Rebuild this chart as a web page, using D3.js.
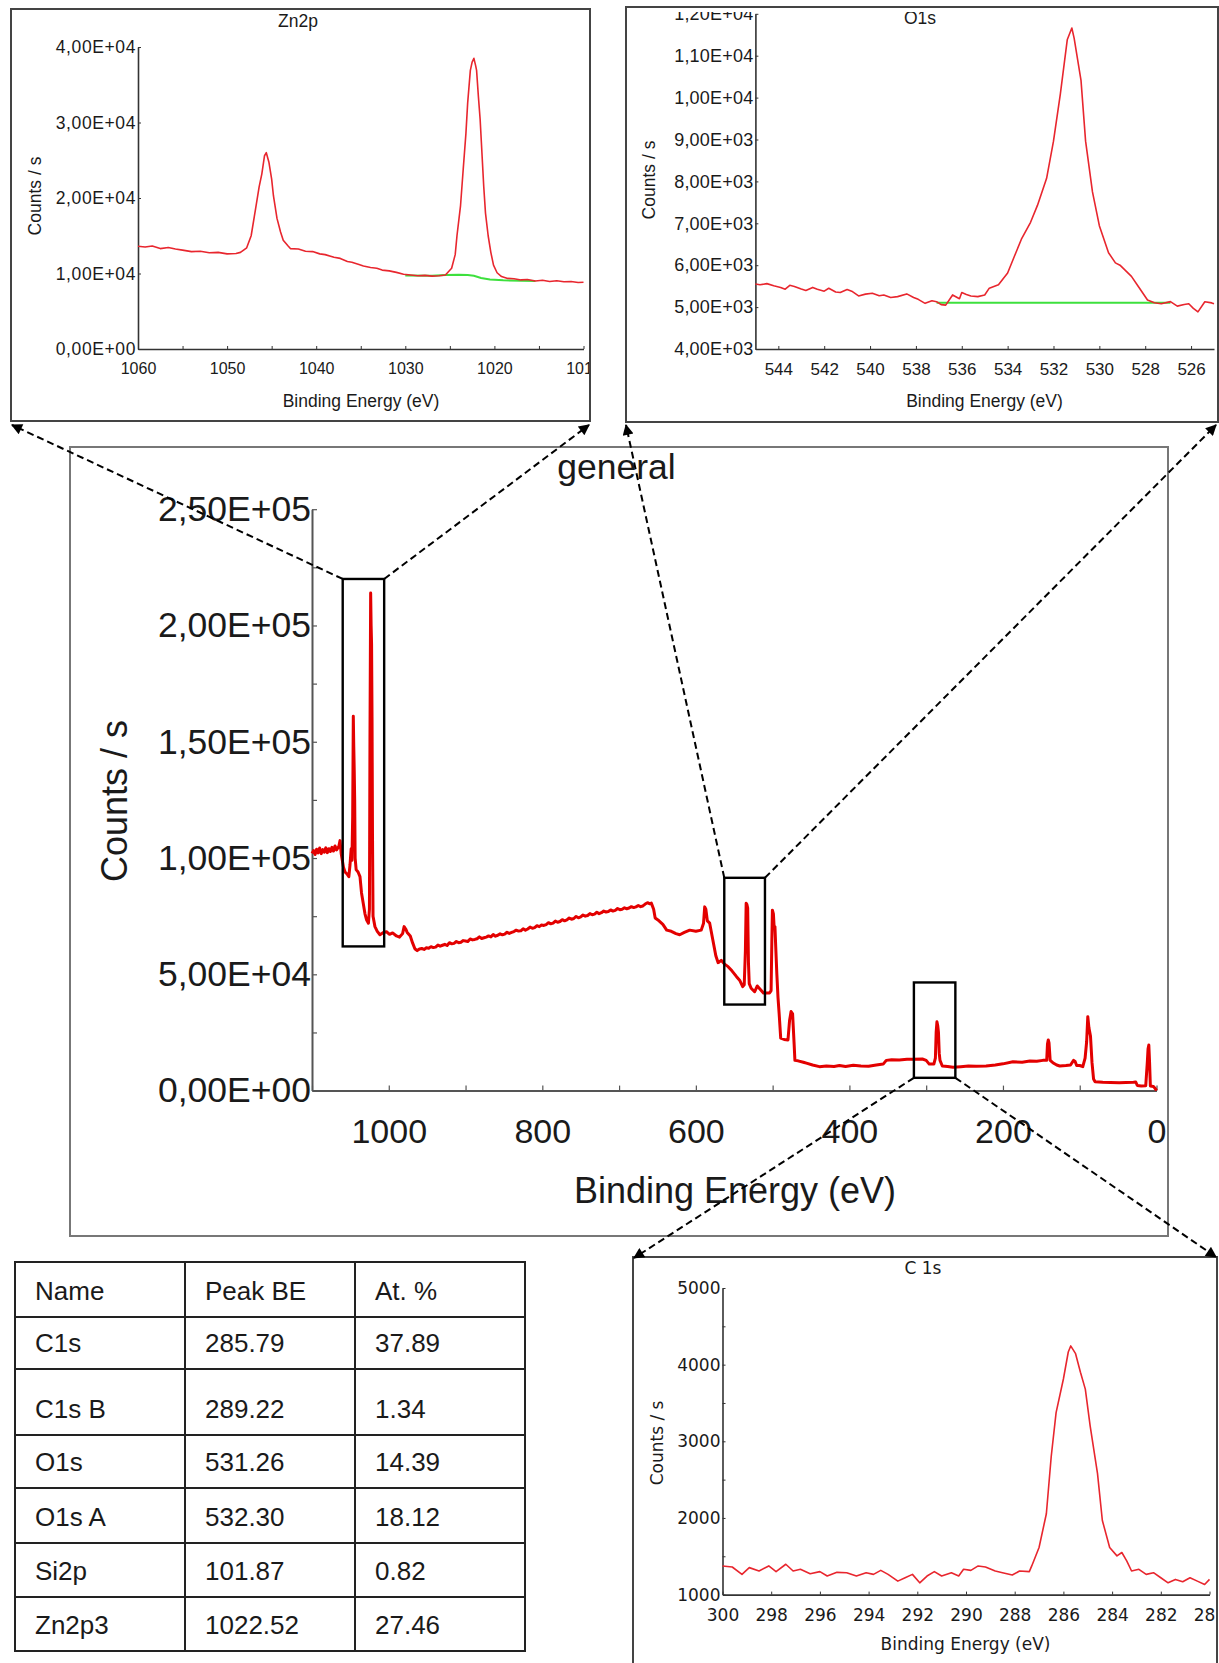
<!DOCTYPE html>
<html>
<head>
<meta charset="utf-8">
<script src="https://cdn.jsdelivr.net/npm/d3@7"></script>
<style>
  body { margin: 0; background: #fff; }
  svg { display: block; }
  text { font-family: "Liberation Sans", Arial, sans-serif; fill: #1a1a1a; }
</style>
</head>
<body>
<svg id="fig" width="1219" height="1663"></svg>
<script>
// ---------- Survey spectrum ("general") ----------
const surveyBE = [1100,1098,1096,1094,1092,1090,1088,1086,1084,1082,1080,1078,1076,1074,1072,1070,1068,1065,1063.5,1062,
  1059,1057,1054,1052,1050.5,1049,1048,1047,1046.2,1045.6,1045,1044.4,1043.8,1042.5,1040,1037.5,1035.5,1033,1031,1029,
  1026.5,1025.2,1024.5,1023.6,1023,1022.4,1021.8,1021.2,1020.5,1018,1015,1011.5,1007,1003,999,995,990,986,982,980,
  978,976,972,969,966,963,960,957,954,951,948,945,942,939,936,933,930,927,924,921,
  918,915,912,909,906,903,900,897,894,891,888,885,882,879,876,873,870,867,864,861,
  858,855,852,849,846,843,840,837,834,831,828,825,822,819,816,813,810,807,804,801,
  798,795,792,789,786,783,780,777,774,771,768,765,762,759,756,753,750,747,744,741,
  738,735,732,729,726,723,720,717,714,711,708,705,702,699,696,693,690,687,684,681,
  678,675,672,669,666,663,660,658,655,653,648,643,638,632,626,621,615,608,600,593,
  590,588.5,587,585,582,578,574,571,567,563,558,553,547,543,539,537,535.5,534.5,533.5,532.5,
  531.5,530.5,528,523.5,520,516,512,507,504,502,501,500.3,499,498,497,496,494.5,493,491.5,489.5,
  485,480,478,476,474,472,471,467,460,456,448,439,430,420,413,405,395,385,375,365,
  356,352,345,335,325,317,305,300,296,290,288,287,286,285,284,283,282,279,272,265,
  255,245,235,222,210,200,187,175,165,156,148,143,142,141,140,138.5,135,130,126,118,
  112,108,106,104,100,96,93,91,89.5,88,86,84,82,80,70,60,48.5,40,30,27,
  25,20,14,12,11,10,9,8,4,1,0];
const surveyCounts = [102000,103200,101500,103800,102200,104300,101900,103600,102500,104400,102300,104000,102800,104600,103000,105200,103500,105000,107500,102000,
  96000,94000,93000,92000,97000,104000,99000,118000,161000,148000,138000,125000,100000,95000,94000,92000,85000,80000,76000,73500,
  72000,78000,150000,214000,200000,192000,160000,110000,75000,70500,68500,67000,68000,68300,67200,67800,66500,66000,67500,70500,
  69500,68000,66500,63500,61000,60200,60900,61100,60700,61400,61200,61900,61500,61700,62600,62100,62500,62900,62400,63600,
  63100,63300,64100,63600,63800,64500,64300,64100,65200,64800,65000,65300,66100,65400,65700,66000,66500,66100,67100,66400,
  66800,67400,67000,67300,68100,67600,68000,68400,69000,68600,68700,69600,69000,69500,70300,69800,70100,70900,70500,71200,
  71000,71400,72200,71700,72000,72900,72400,72700,73500,73000,73400,74200,73700,74000,74900,74300,74700,75500,75000,75300,
  76100,75600,75900,76700,76100,76500,77200,76800,77000,77700,77200,77500,78300,77800,78000,78600,78200,78500,79100,78700,
  79000,79600,79100,79400,80200,80800,80300,80600,78000,74200,73000,71500,69000,68500,67500,67000,68000,69000,68500,69000,
  72000,79000,78000,73000,72000,65000,58000,55000,56000,54500,53300,51500,49000,47500,44700,45500,60000,80600,80000,78500,
  55000,46000,44000,42500,45000,43500,42000,42000,42000,43000,65000,77600,76000,70000,70500,62000,50000,40000,33000,22600,
  22000,21800,30000,34000,33000,20000,13000,12800,12200,11800,11000,10300,10600,10400,10800,10400,10900,10600,10500,11000,
  11400,13000,13300,13200,13500,13500,13600,13000,11400,11400,14000,25000,29600,28000,25000,16000,13000,10600,10400,10000,
  10300,10600,10500,10600,11000,11500,12400,12200,12700,12600,13000,13000,20000,21800,20500,13000,12000,11000,10600,10800,
  11000,13000,12500,10800,10800,10300,14000,21000,31800,27000,23500,12000,5000,3800,3600,3500,3400,3500,3600,3700,
  2200,2000,2100,12000,18000,19600,12000,2000,1800,600,0];
const surveyXTicks = [1000, 800, 600, 400, 200, 0];
const surveyXMinor = [1100, 1000, 900, 800, 700, 600, 500, 400, 300, 200, 100, 0];
const surveyYTicks = [0, 50000, 100000, 150000, 200000, 250000];
const surveyYMinor = [0, 25000, 50000, 75000, 100000, 125000, 150000, 175000, 200000, 225000, 250000];

// Windows on the survey that are shown in detail: [BE high, BE low, counts low, counts high]
const windowZn = [1060, 1006, 62000, 220000];
const windowO  = [563, 510, 37000, 91500];
const windowC  = [316, 262, 5500, 46500];

// ---------- Zn2p high-resolution region ----------
const zn2pBE = [1060,1059.2,1058.4,1057.5,1056.6,1055.8,1055,1054,1053,1052,1051,1050,1049,1048.5,1047.8,1047.3,1046.8,1046.4,1046.1,1045.8,
  1045.6,1045.3,1045,1044.8,1044.4,1044,1043.7,1043.2,1042.9,1042,1041.2,1040.4,1039.6,1039,1038,1037.3,1036.5,1036,1035.2,1034.7,
  1033.9,1033.2,1032.6,1031.8,1031,1030.2,1029.4,1028.6,1027.8,1027,1026.2,1025.5,1024.8,1024.4,1024.2,1023.8,1023.5,1023.2,1023,1022.7,
  1022.5,1022.3,1022.1,1022,1021.8,1021.6,1021.4,1021.2,1021,1020.7,1020.4,1020.1,1019.7,1019.2,1018.5,1017.8,1017,1016.3,1015.4,1014.6,
  1013.8,1013,1012.2,1011.4,1010.6,1010];
const zn2pCounts = [13600,13500,13650,13300,13450,13250,13100,12900,12950,12750,12800,12600,12650,12800,13400,15000,18600,21500,23200,25600,
  26000,24700,22500,20300,17300,15500,14400,13700,13300,13250,12950,12900,12600,12500,12150,12000,11600,11500,11200,11000,
  10800,10700,10450,10350,10150,9900,9800,9700,9750,9650,9700,9800,10700,12500,15000,19000,23800,28500,32600,36900,
  38000,38500,37500,36900,33500,30400,26000,21600,18000,15000,12800,11100,10100,9600,9350,9300,9150,9200,9000,9100,
  8950,9050,8900,8950,8800,8850];
const zn2pBgBE = [1030, 1027, 1025.5, 1024, 1023, 1022.3, 1021.5, 1020.5, 1019, 1017, 1015.4];
const zn2pBgCounts = [9750, 9700, 9800, 9850, 9800, 9700, 9400, 9200, 9100, 9050, 9000];
const zn2pXTicks = [1060, 1050, 1040, 1030, 1020, 1010];
const zn2pXMinor = [1055, 1045, 1035, 1025, 1015];
const zn2pYTicks = [0, 10000, 20000, 30000, 40000];

// ---------- O1s high-resolution region ----------
const o1sBE = [545,544.8,544.5,544.2,543.9,543.7,543.5,543.3,543,542.8,542.5,542.3,542,541.8,541.5,541.3,541,540.8,540.5,540.2,
  539.9,539.6,539.4,539.1,538.8,538.4,538.1,537.9,537.6,537.3,537.1,536.9,536.7,536.4,536.1,536,535.8,535.6,535.3,535,
  534.8,534.4,534,533.7,533.4,533,532.7,532.3,532,531.7,531.4,531.2,531.1,530.8,530.6,530.3,530,529.6,529.3,529.1,
  528.9,528.6,528.3,527.9,527.6,527.3,526.9,526.6,526.3,526.1,525.9,525.7,525.4,525.1,525];
const o1sCounts = [5550,5532,5560,5508,5470,5427,5520,5492,5430,5395,5470,5427,5380,5450,5360,5347,5420,5380,5266,5310,
  5330,5270,5290,5230,5250,5315,5230,5185,5089,5150,5129,5060,5048,5290,5200,5347,5300,5266,5250,5290,
  5452,5532,5815,6218,6621,7024,7427,8073,8960,10089,11379,11661,11419,10411,8960,7750,6944,6298,6056,6000,
  5895,5734,5492,5169,5105,5080,5130,5024,5060,5080,4970,4887,5129,5100,5080];
const o1sBgBE = [537.1, 526.9];
const o1sBgCounts = [5105, 5105];
const o1sXTicks = [544, 542, 540, 538, 536, 534, 532, 530, 528, 526];
const o1sYTicks = [4000, 5000, 6000, 7000, 8000, 9000, 10000, 11000, 12000];

// ---------- C 1s high-resolution region ----------
const c1sBE = [300,299.6,299.2,298.9,298.5,298.1,297.8,297.4,297.1,296.8,296.4,296,295.7,295.3,294.9,294.5,294.1,293.8,293.5,293.2,
  292.8,292.5,292.2,291.9,291.6,291.3,291,290.6,290.3,290.1,289.8,289.5,289.2,288.8,288.5,288.1,287.8,287.4,287.3,287,
  286.7,286.5,286.3,286,285.8,285.7,285.5,285.3,285.1,284.9,284.6,284.4,284.1,283.8,283.6,283.4,283.2,282.9,282.6,282.3,
  282,281.7,281.4,281.1,280.8,280.5,280.2,280];
const c1sCounts = [1374,1360,1264,1352,1308,1374,1300,1396,1308,1330,1273,1300,1242,1290,1286,1242,1286,1264,1316,1264,
  1176,1220,1264,1154,1242,1300,1242,1286,1242,1330,1316,1374,1360,1308,1286,1255,1308,1300,1374,1615,
  2055,2802,3374,3813,4165,4244,4143,3901,3681,3198,2582,1967,1615,1505,1549,1440,1308,1330,1264,1286,
  1220,1154,1198,1167,1220,1176,1132,1198];
const c1sXTicks = [300, 298, 296, 294, 292, 290, 288, 286, 284, 282, 280];
const c1sYTicks = [1000, 2000, 3000, 4000, 5000];
const c1sYMinor = [1500, 2500, 3500, 4500];

// ---------- Quantification table ----------
const tableHeader = ["Name", "Peak BE", "At. %"];
const tableNames = ["C1s", "C1s B", "O1s", "O1s A", "Si2p", "Zn2p3"];
const tablePeakBE = ["285.79", "289.22", "531.26", "532.30", "101.87", "1022.52"];
const tableAtPct = ["37.89", "1.34", "14.39", "18.12", "0.82", "27.46"];

// ---------- helpers ----------
const zip = (xs, ys) => xs.map((x, i) => [x, ys[i]]);
function sciComma(v) {
  if (v === 0) return "0,00E+00";
  const e = Math.floor(Math.log10(v) + 1e-9);
  const m = v / Math.pow(10, e);
  return m.toFixed(2).replace(".", ",") + "E+" + String(e).padStart(2, "0");
}
function styleAxis(g, opt) {
  g.select(".domain").attr("stroke", opt.axisColor).attr("stroke-width", opt.axisWidth);
  g.selectAll(".tick line").attr("stroke", opt.axisColor).attr("stroke-width", opt.tickWidth || 1.2);
  g.selectAll(".tick text")
    .attr("fill", "#1a1a1a")
    .style("font-family", opt.font)
    .style("font-size", opt.size + "px")
    .style("letter-spacing", (opt.spacing || 0) + "px");
}

const svg = d3.select("#fig");
svg.append("rect").attr("width", 1219).attr("height", 1663).attr("fill", "#fff");
const defs = svg.append("defs");
defs.append("marker")
  .attr("id", "arrowHead")
  .attr("viewBox", "0 0 10 10")
  .attr("refX", 9).attr("refY", 5)
  .attr("markerWidth", 14).attr("markerHeight", 11)
  .attr("markerUnits", "userSpaceOnUse")
  .attr("orient", "auto")
  .append("path").attr("d", "M0,0L10,5L0,10Z").attr("fill", "#000");

// =============== Survey chart ===============
const main = svg.append("g");
main.append("rect").attr("x", 70).attr("y", 447).attr("width", 1098).attr("height", 789)
  .attr("fill", "none").attr("stroke", "#777").attr("stroke-width", 2);

const xM = d3.scaleLinear().domain([1100, 0]).range([312, 1156.5]);
const yM = d3.scaleLinear().domain([0, 250000]).range([1090.6, 509.2]);
const mainOpt = { axisColor: "#555", axisWidth: 2, font: '"Liberation Sans", Arial, sans-serif', size: 34 };
const mainYOpt = Object.assign({}, mainOpt, { size: 35.5 });

main.append("g").attr("transform", `translate(0,${yM(0)})`)
  .call(d3.axisBottom(xM).tickValues(surveyXMinor).tickSize(-5).tickSizeOuter(0).tickFormat(""))
  .call(g => styleAxis(g, mainOpt));
main.append("g").attr("transform", `translate(0,${yM(0)})`)
  .call(d3.axisBottom(xM).tickValues(surveyXTicks).tickSize(0).tickSizeOuter(0).tickPadding(28).tickFormat(d3.format("d")))
  .call(g => { styleAxis(g, mainOpt); g.select(".domain").remove(); });
main.append("g").attr("transform", `translate(${xM(1100)},0)`)
  .call(d3.axisLeft(yM).tickValues(surveyYMinor).tickSize(-5).tickSizeOuter(0).tickFormat(""))
  .call(g => styleAxis(g, mainOpt));
main.append("g").attr("transform", `translate(${xM(1100)},0)`)
  .call(d3.axisLeft(yM).tickValues(surveyYTicks).tickSize(0).tickSizeOuter(0).tickPadding(1).tickFormat(sciComma))
  .call(g => { styleAxis(g, mainYOpt); g.select(".domain").remove(); });

main.append("path")
  .datum(zip(surveyBE, surveyCounts))
  .attr("fill", "none").attr("stroke", "#e30000").attr("stroke-width", 3).attr("stroke-linejoin", "round")
  .attr("d", d3.line().x(d => xM(d[0])).y(d => yM(d[1])));

main.append("text").attr("x", 616.5).attr("y", 478.5).attr("text-anchor", "middle")
  .style("font-size", "35.5px").text("general");
main.append("text").attr("x", 735).attr("y", 1203).attr("text-anchor", "middle")
  .style("font-size", "36px").text("Binding Energy (eV)");
main.append("text").attr("transform", "translate(114,801) rotate(-90)").attr("text-anchor", "middle")
  .attr("dominant-baseline", "central").style("font-size", "36px").text("Counts / s");

function windowRect(w) {
  return { x0: xM(w[0]), x1: xM(w[1]), y0: yM(w[3]), y1: yM(w[2]) };
}
const rZn = windowRect(windowZn), rO = windowRect(windowO), rC = windowRect(windowC);
[rZn, rO, rC].forEach(r => {
  main.append("rect").attr("x", r.x0).attr("y", r.y0).attr("width", r.x1 - r.x0).attr("height", r.y1 - r.y0)
    .attr("fill", "none").attr("stroke", "#000").attr("stroke-width", 2.4);
});

// =============== Detail panels ===============
function panel(cfg) {
  const g = svg.append("g");
  const clipId = cfg.id + "Clip";
  defs.append("clipPath").attr("id", clipId).append("rect")
    .attr("x", cfg.clip[0]).attr("y", cfg.clip[1]).attr("width", cfg.clip[2]).attr("height", cfg.clip[3]);
  const inner = g.append("g").attr("clip-path", `url(#${clipId})`);
  const x = d3.scaleLinear().domain(cfg.xDomain).range(cfg.xRange);
  const y = d3.scaleLinear().domain(cfg.yDomain).range(cfg.yRange);
  const opt = { axisColor: "#333", axisWidth: 1.6, font: cfg.font, size: cfg.tickSize, tickWidth: 1 };
  const yOpt = Object.assign({}, opt, { size: cfg.yTickSize || cfg.tickSize, spacing: cfg.ySpacing || 0 });

  if (cfg.xMinor) {
    inner.append("g").attr("transform", `translate(0,${cfg.yRange[0]})`)
      .call(d3.axisBottom(x).tickValues(cfg.xMinor).tickSize(-3).tickSizeOuter(0).tickFormat(""))
      .call(gg => { styleAxis(gg, opt); gg.select(".domain").remove(); });
  }
  inner.append("g").attr("transform", `translate(0,${cfg.yRange[0]})`)
    .call(d3.axisBottom(x).tickValues(cfg.xTicks).tickSize(-3).tickSizeOuter(0).tickPadding(cfg.xPad).tickFormat(d3.format("d")))
    .call(gg => styleAxis(gg, opt));
  if (cfg.yMinor) {
    inner.append("g").attr("transform", `translate(${cfg.xRange[0]},0)`)
      .call(d3.axisLeft(y).tickValues(cfg.yMinor).tickSize(-3).tickSizeOuter(0).tickFormat(""))
      .call(gg => { styleAxis(gg, opt); gg.select(".domain").remove(); });
  }
  inner.append("g").attr("transform", `translate(${cfg.xRange[0]},0)`)
    .call(d3.axisLeft(y).tickValues(cfg.yTicks).tickSize(-3).tickSizeOuter(0).tickPadding(2).tickFormat(cfg.yFormat))
    .call(gg => styleAxis(gg, yOpt));

  const line = d3.line().x(d => x(d[0])).y(d => y(d[1]));
  if (cfg.bg) {
    inner.append("path").datum(cfg.bg).attr("fill", "none").attr("stroke", "#3de03d").attr("stroke-width", 2)
      .attr("d", line);
  }
  inner.append("path").datum(cfg.data).attr("fill", "none").attr("stroke", "#e8262e").attr("stroke-width", 1.6)
    .attr("stroke-linejoin", "round").attr("d", line);

  const tStyle = t => t.style("font-family", cfg.font).style("font-size", cfg.labelSize + "px");
  inner.append("text").attr("x", cfg.title[0]).attr("y", cfg.title[1]).attr("text-anchor", "middle")
    .attr("dominant-baseline", "central").call(tStyle).text(cfg.titleText);
  inner.append("text").attr("x", cfg.xTitle[0]).attr("y", cfg.xTitle[1]).attr("text-anchor", "middle")
    .attr("dominant-baseline", "central").call(tStyle).text("Binding Energy (eV)");
  inner.append("text").attr("transform", `translate(${cfg.yTitle[0]},${cfg.yTitle[1]}) rotate(-90)`)
    .attr("text-anchor", "middle").attr("dominant-baseline", "central").call(tStyle).text("Counts / s");

  g.append("path").attr("d", cfg.frame).attr("fill", "none").attr("stroke", "#444").attr("stroke-width", 2);
  return g;
}

panel({
  id: "zn2p", frame: "M11,9H590V421H11Z", clip: [12, 10, 577, 410],
  xDomain: [1060, 1010], xRange: [138, 583.5], yDomain: [0, 40000], yRange: [349, 47],
  xTicks: zn2pXTicks, xMinor: zn2pXMinor, yTicks: zn2pYTicks, yFormat: sciComma, xPad: 14,
  font: '"Liberation Sans", Arial, sans-serif', tickSize: 16, yTickSize: 17.5, ySpacing: 0.6, labelSize: 17.5,
  data: zip(zn2pBE, zn2pCounts), bg: zip(zn2pBgBE, zn2pBgCounts),
  titleText: "Zn2p", title: [298, 21], xTitle: [361, 401], yTitle: [35, 196]
});

panel({
  id: "o1s", frame: "M626,7H1218V422H626Z", clip: [627, 12, 590, 409],
  xDomain: [545, 525], xRange: [755.4, 1214], yDomain: [4000, 12000], yRange: [349, 13.8],
  xTicks: o1sXTicks, yTicks: o1sYTicks, yFormat: sciComma, xPad: 14,
  font: '"Liberation Sans", Arial, sans-serif', tickSize: 17, yTickSize: 18, ySpacing: 0.2, labelSize: 17.5,
  data: zip(o1sBE, o1sCounts), bg: zip(o1sBgBE, o1sBgCounts),
  titleText: "O1s", title: [920, 18], xTitle: [984.5, 401], yTitle: [649, 180]
});

panel({
  id: "c1s", frame: "M633,1663V1257H1217V1663", clip: [634, 1258, 582, 405],
  xDomain: [300, 280], xRange: [722.5, 1209.5], yDomain: [1000, 5000], yRange: [1594.6, 1288],
  xTicks: c1sXTicks, yTicks: c1sYTicks, yMinor: c1sYMinor, yFormat: d3.format("d"), xPad: 14.5,
  font: '"DejaVu Sans", sans-serif', tickSize: 17, labelSize: 17,
  data: zip(c1sBE, c1sCounts), bg: null,
  titleText: "C 1s", title: [923, 1268], xTitle: [965.5, 1644], yTitle: [657, 1443]
});

// =============== Connectors from survey windows to detail panels ===============
const connectors = [
  [rZn.x0, rZn.y0, 12, 425],
  [rZn.x1, rZn.y0, 589, 425],
  [rO.x0, rO.y0, 626, 425],
  [rO.x1, rO.y0, 1216, 425],
  [rC.x0, rC.y1, 634, 1258],
  [rC.x1, rC.y1, 1216, 1257]
];
svg.append("g").selectAll("line").data(connectors).join("line")
  .attr("x1", d => d[0]).attr("y1", d => d[1]).attr("x2", d => d[2]).attr("y2", d => d[3])
  .attr("stroke", "#000").attr("stroke-width", 2).attr("stroke-dasharray", "7,4")
  .attr("marker-end", "url(#arrowHead)");

// =============== Quantification table ===============
const colX = [15, 185, 355, 525];
const rowY = [1262, 1317, 1369, 1435, 1488, 1543, 1597, 1651];
const table = svg.append("g");
const rows = [tableHeader].concat(tableNames.map((n, i) => [n, tablePeakBE[i], tableAtPct[i]]));
rowY.forEach(yv => table.append("line").attr("x1", colX[0] - 1).attr("x2", colX[3] + 1).attr("y1", yv).attr("y2", yv)
  .attr("stroke", "#222").attr("stroke-width", 2));
colX.forEach(xv => table.append("line").attr("x1", xv).attr("x2", xv).attr("y1", rowY[0]).attr("y2", rowY[rowY.length - 1])
  .attr("stroke", "#222").attr("stroke-width", 2));
rows.forEach((r, i) => {
  // cell text sits a fixed distance above the row's lower rule
  const cy = rowY[i + 1] - 26;
  r.forEach((cell, j) => {
    table.append("text").attr("x", colX[j] + 20).attr("y", cy).attr("dominant-baseline", "central")
      .style("font-size", "26px").attr("fill", "#222").text(cell);
  });
});
</script>
</body>
</html>
